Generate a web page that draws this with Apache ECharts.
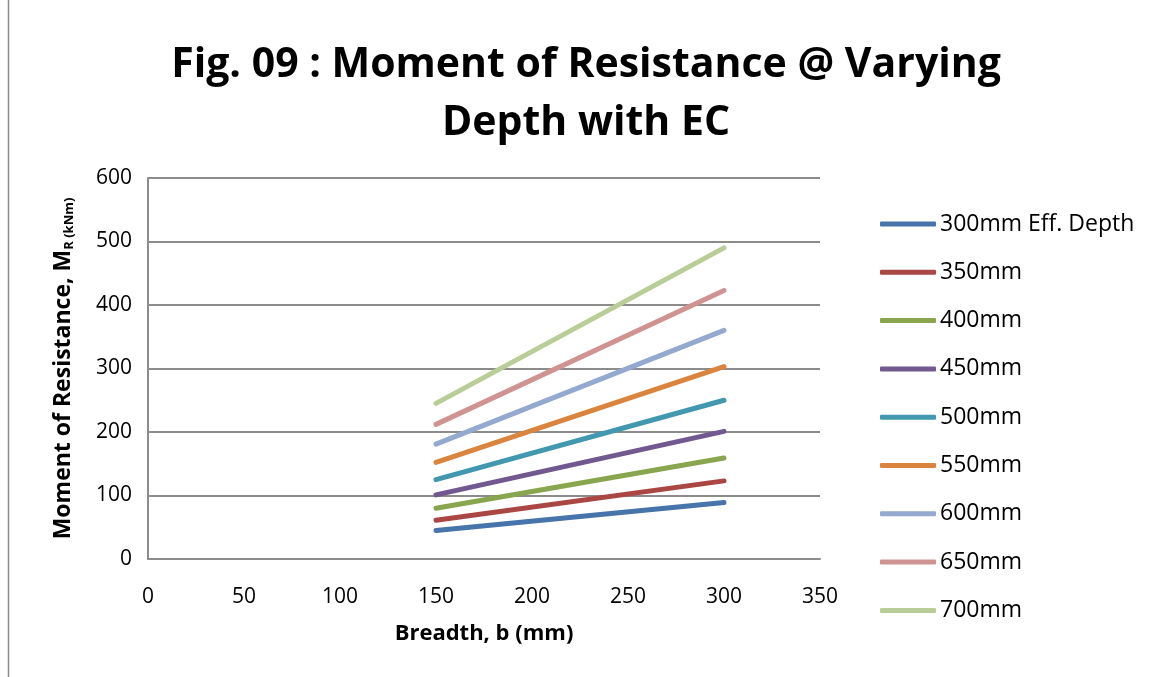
<!DOCTYPE html>
<html>
<head>
<meta charset="utf-8">
<script src="https://cdn.jsdelivr.net/npm/echarts@6/dist/echarts.min.js"></script>
<style>
  html, body { margin: 0; padding: 0; background: #fff; }
  #chart { width: 1154px; height: 677px; }
</style>
</head>
<body>
<div id="chart"></div>
<script>
// breadth b (mm)
const breadth = [150, 300];
// moment of resistance (kNm) for each effective depth
const seriesNames = ['300mm Eff. Depth', '350mm', '400mm', '450mm', '500mm', '550mm', '600mm', '650mm', '700mm'];
const d300 = [45, 89];
const d350 = [61, 123];
const d400 = [80, 159];
const d450 = [101, 201];
const d500 = [125, 250];
const d550 = [152, 303];
const d600 = [181, 360];
const d650 = [212, 423];
const d700 = [245, 490];
const allValues = [d300, d350, d400, d450, d500, d550, d600, d650, d700];
const colors = ['#4674AB', '#AA4643', '#89A54E', '#71588F', '#4198AF', '#DB843D', '#93A9CF', '#D19392', '#B9CD96'];

const font = '"Open Sans", sans-serif';

const chart = echarts.init(document.getElementById('chart'), null, { renderer: 'canvas' });

const option = {
  animation: false,
  color: colors,
  title: {
    text: 'Fig. 09 : Moment of Resistance @ Varying\nDepth with EC',
    left: 581,
    textAlign: 'center',
    top: 31,
    textStyle: { fontFamily: font, fontWeight: 'bold', fontSize: 41, lineHeight: 58, color: '#000' }
  },
  graphic: [{
    type: 'rect',
    shape: { x: 8.5, y: -5, width: 1160, height: 690 },
    style: { fill: 'none', stroke: '#8c8c8c', lineWidth: 1.5 }
  }],
  legend: {
    orient: 'vertical',
    left: 875,
    top: 207,
    itemWidth: 56,
    itemHeight: 5,
    itemGap: 24.3,
    icon: 'roundRect',
    textStyle: { fontFamily: font, fontSize: 23, lineHeight: 24, color: '#000', padding: [0, 0, 0, -1] },
    data: seriesNames
  },
  grid: { left: 148, right: 334, top: 178, bottom: 118 },
  xAxis: {
    type: 'value',
    min: 0, max: 350, interval: 50,
    name: 'Breadth, b (mm)',
    nameLocation: 'middle',
    nameGap: 64,
    nameTextStyle: { fontFamily: font, fontWeight: 'bold', fontSize: 22, color: '#000' },
    axisLine: { show: true, lineStyle: { color: '#8c8c8c', width: 2 } },
    axisTick: { show: false },
    splitLine: { show: false },
    axisLabel: { fontFamily: font, fontSize: 21, color: '#000', margin: 28 }
  },
  yAxis: {
    type: 'value',
    min: 0, max: 600, interval: 100,
    name: '{b|Moment of Resistance, M}{s|R (kNm)}',
    nameLocation: 'middle',
    nameGap: 72,
    nameTextStyle: {
      rich: {
        b: { fontFamily: font, fontWeight: 'bold', fontSize: 23, color: '#000' },
        s: { fontFamily: font, fontWeight: 'bold', fontSize: 13, color: '#000', padding: [12, 0, 0, 0] }
      }
    },
    axisLine: { show: true, lineStyle: { color: '#8c8c8c', width: 2 } },
    axisTick: { show: false },
    splitLine: { show: true, lineStyle: { color: '#8c8c8c', width: 2 } },
    axisLabel: { fontFamily: font, fontSize: 21, color: '#000', margin: 16 }
  },
  series: seriesNames.map((name, i) => ({
    name: name,
    type: 'line',
    symbol: 'none',
    lineStyle: { width: 5, cap: 'round', color: colors[i] },
    itemStyle: { color: colors[i] },
    data: breadth.map((b, j) => [b, allValues[i][j]])
  }))
};

chart.setOption(option);
</script>
</body>
</html>
